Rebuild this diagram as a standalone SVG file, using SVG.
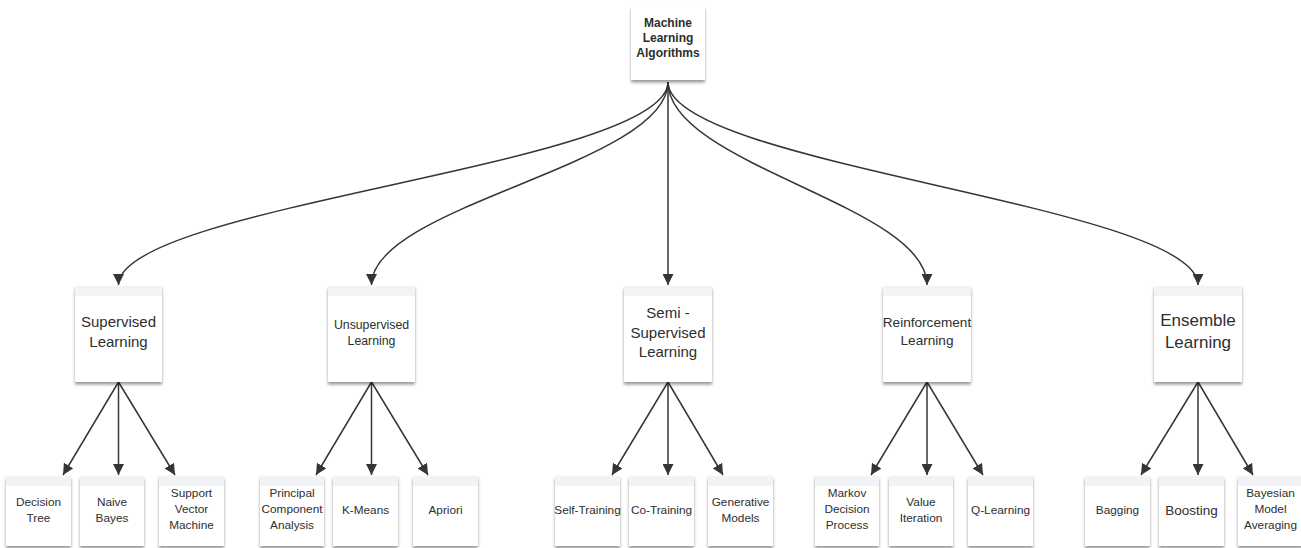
<svg xmlns="http://www.w3.org/2000/svg" width="1301" height="548" viewBox="0 0 1301 548">
  <defs>
    <filter id="shadow" x="-10%" y="-10%" width="120%" height="125%">
      <feDropShadow dx="0" dy="2.5" stdDeviation="1.6" flood-color="#000" flood-opacity="0.4"/>
    </filter>
    <marker id="arrow" markerUnits="userSpaceOnUse" markerWidth="11" markerHeight="11" refX="11" refY="5.5" orient="auto">
      <path d="M0,0 L11,5.5 L0,11 z" fill="#353535"/>
    </marker>
    <style>
      .card { fill: #ffffff; filter: url(#shadow); }
      .band { fill: #f1f3f6; }
      .edge { fill: none; stroke: #353535; stroke-width: 1.5; marker-end: url(#arrow); }
      text { font-family: "Liberation Sans", Arial, sans-serif; fill: #2e2e2e; text-anchor: middle; }
      .root { font-size: 12px; font-weight: bold; }
      .leaf { font-size: 11.8px; }
    </style>
  </defs>

  <rect width="1301" height="548" fill="#ffffff"/>

  <!-- connectors -->
  <g id="connectors">
    <path class="edge" d="M668,82 C668,165 118.5,205 118.5,285"/>
    <path class="edge" d="M668,82 C668,165 371.5,205 371.5,285"/>
    <path class="edge" d="M668,82 L668,285"/>
    <path class="edge" d="M668,82 C668,165 927,205 927,285"/>
    <path class="edge" d="M668,82 C668,165 1198,205 1198,285"/>

    <path class="edge" d="M118.5,382 L63,475"/>
    <path class="edge" d="M118.5,382 L118.5,475"/>
    <path class="edge" d="M118.5,382 L175,475"/>

    <path class="edge" d="M371.5,382 L316,475"/>
    <path class="edge" d="M371.5,382 L371.5,475"/>
    <path class="edge" d="M371.5,382 L428,475"/>

    <path class="edge" d="M668,382 L612,475"/>
    <path class="edge" d="M668,382 L668,475"/>
    <path class="edge" d="M668,382 L723,475"/>

    <path class="edge" d="M927,382 L871,475"/>
    <path class="edge" d="M927,382 L927,475"/>
    <path class="edge" d="M927,382 L983,475"/>

    <path class="edge" d="M1198,382 L1141,475"/>
    <path class="edge" d="M1198,382 L1198,475"/>
    <path class="edge" d="M1198,382 L1253,475"/>
  </g>

  <!-- root -->
  <g id="root">
    <rect class="card" x="631" y="7" width="74" height="73"/>
    <text class="root" x="668" y="27">Machine</text>
    <text class="root" x="668" y="42">Learning</text>
    <text class="root" x="668" y="57">Algorithms</text>
  </g>

  <!-- learning categories -->
  <g id="supervised">
    <rect class="card" x="75" y="286" width="87" height="96"/>
    <rect class="band" x="75" y="286" width="87" height="10"/>
    <text x="118.5" y="327" font-size="15">Supervised</text>
    <text x="118.5" y="347" font-size="15">Learning</text>
  </g>
  <g id="unsupervised">
    <rect class="card" x="328" y="286" width="87" height="96"/>
    <rect class="band" x="328" y="286" width="87" height="10"/>
    <text x="371.5" y="329" font-size="12.3">Unsupervised</text>
    <text x="371.5" y="345" font-size="12.3">Learning</text>
  </g>
  <g id="semi-supervised">
    <rect class="card" x="624" y="286" width="88" height="96"/>
    <rect class="band" x="624" y="286" width="88" height="10"/>
    <text x="668" y="318" font-size="15">Semi -</text>
    <text x="668" y="338" font-size="15">Supervised</text>
    <text x="668" y="357" font-size="15">Learning</text>
  </g>
  <g id="reinforcement">
    <rect class="card" x="883" y="286" width="88" height="96"/>
    <rect class="band" x="883" y="286" width="88" height="10"/>
    <text x="927" y="327" font-size="13.6">Reinforcement</text>
    <text x="927" y="345" font-size="13.6">Learning</text>
  </g>
  <g id="ensemble">
    <rect class="card" x="1154" y="286" width="88" height="96"/>
    <rect class="band" x="1154" y="286" width="88" height="10"/>
    <text x="1198" y="326" font-size="17">Ensemble</text>
    <text x="1198" y="348" font-size="17">Learning</text>
  </g>

  <!-- algorithms -->
  <g id="decision-tree">
    <rect class="card" x="6" y="476" width="65" height="70"/>
    <rect class="band" x="6" y="476" width="65" height="10"/>
    <text class="leaf" x="38.5" y="506">Decision</text>
    <text class="leaf" x="38.5" y="522">Tree</text>
  </g>
  <g id="naive-bayes">
    <rect class="card" x="80" y="476" width="64" height="70"/>
    <rect class="band" x="80" y="476" width="64" height="10"/>
    <text class="leaf" x="112" y="506">Naive</text>
    <text class="leaf" x="112" y="522">Bayes</text>
  </g>
  <g id="svm">
    <rect class="card" x="159" y="476" width="65" height="70"/>
    <rect class="band" x="159" y="476" width="65" height="10"/>
    <text class="leaf" x="191.5" y="497">Support</text>
    <text class="leaf" x="191.5" y="513">Vector</text>
    <text class="leaf" x="191.5" y="529">Machine</text>
  </g>
  <g id="pca">
    <rect class="card" x="260" y="476" width="64" height="70"/>
    <rect class="band" x="260" y="476" width="64" height="10"/>
    <text class="leaf" x="292" y="497">Principal</text>
    <text class="leaf" x="292" y="513">Component</text>
    <text class="leaf" x="292" y="529">Analysis</text>
  </g>
  <g id="k-means">
    <rect class="card" x="333" y="476" width="65" height="70"/>
    <rect class="band" x="333" y="476" width="65" height="10"/>
    <text class="leaf" x="365.5" y="514">K-Means</text>
  </g>
  <g id="apriori">
    <rect class="card" x="413" y="476" width="65" height="70"/>
    <rect class="band" x="413" y="476" width="65" height="10"/>
    <text class="leaf" x="445.5" y="514">Apriori</text>
  </g>

  <g id="self-training">
    <rect class="card" x="555" y="476" width="65" height="70"/>
    <rect class="band" x="555" y="476" width="65" height="10"/>
    <text class="leaf" x="587.5" y="514">Self-Training</text>
  </g>
  <g id="co-training">
    <rect class="card" x="629" y="476" width="65" height="70"/>
    <rect class="band" x="629" y="476" width="65" height="10"/>
    <text class="leaf" x="661.5" y="514">Co-Training</text>
  </g>
  <g id="generative-models">
    <rect class="card" x="708" y="476" width="65" height="70"/>
    <rect class="band" x="708" y="476" width="65" height="10"/>
    <text class="leaf" x="740.5" y="506">Generative</text>
    <text class="leaf" x="740.5" y="522">Models</text>
  </g>

  <g id="mdp">
    <rect class="card" x="815" y="476" width="64" height="70"/>
    <rect class="band" x="815" y="476" width="64" height="10"/>
    <text class="leaf" x="847" y="497">Markov</text>
    <text class="leaf" x="847" y="513">Decision</text>
    <text class="leaf" x="847" y="529">Process</text>
  </g>
  <g id="value-iteration">
    <rect class="card" x="889" y="476" width="64" height="70"/>
    <rect class="band" x="889" y="476" width="64" height="10"/>
    <text class="leaf" x="921" y="506">Value</text>
    <text class="leaf" x="921" y="522">Iteration</text>
  </g>
  <g id="q-learning">
    <rect class="card" x="968" y="476" width="65" height="70"/>
    <rect class="band" x="968" y="476" width="65" height="10"/>
    <text class="leaf" x="1000.5" y="514">Q-Learning</text>
  </g>

  <g id="bagging">
    <rect class="card" x="1085" y="476" width="65" height="70"/>
    <rect class="band" x="1085" y="476" width="65" height="10"/>
    <text class="leaf" x="1117.5" y="514" font-size="11.5">Bagging</text>
  </g>
  <g id="boosting">
    <rect class="card" x="1159" y="476" width="65" height="70"/>
    <rect class="band" x="1159" y="476" width="65" height="10"/>
    <text x="1191.5" y="515" font-size="13.5">Boosting</text>
  </g>
  <g id="bma">
    <rect class="card" x="1238" y="476" width="65" height="70"/>
    <rect class="band" x="1238" y="476" width="65" height="10"/>
    <text class="leaf" x="1270.5" y="497">Bayesian</text>
    <text class="leaf" x="1270.5" y="513">Model</text>
    <text class="leaf" x="1270.5" y="529">Averaging</text>
  </g>
</svg>
